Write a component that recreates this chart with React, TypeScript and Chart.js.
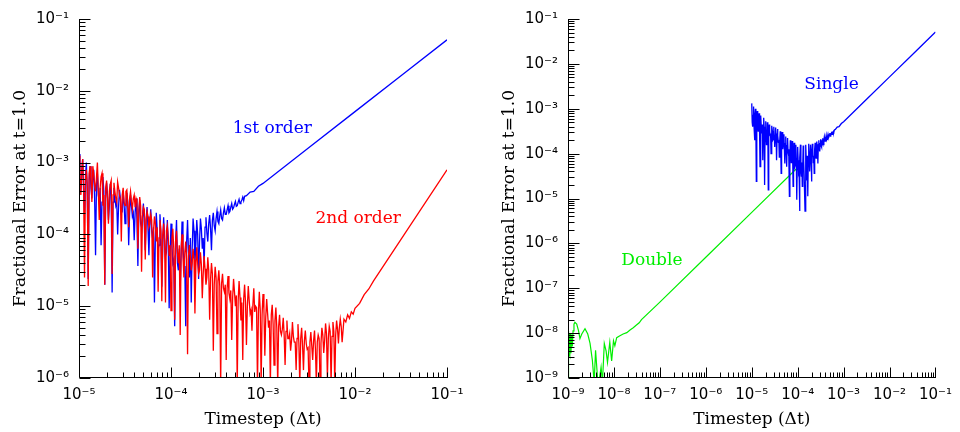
import React, { useEffect, useRef } from 'react';
import { Chart, registerables } from 'chart.js';

Chart.register(...registerables);

// ---- Data (stored as log10 values) ----
// Timestep grid of the round-off dominated (noisy) region, log10(dt): even samples
const noiseLogDt = [
  -5.00, -4.98, -4.96, -4.94, -4.92, -4.90, -4.88, -4.86, -4.84, -4.82,
  -4.80, -4.78, -4.76, -4.74, -4.72, -4.70, -4.68, -4.66, -4.64, -4.62,
  -4.60, -4.58, -4.56, -4.54, -4.52, -4.50, -4.48, -4.46, -4.44, -4.42,
  -4.40, -4.38, -4.36, -4.34, -4.32, -4.30, -4.28, -4.26, -4.24, -4.22,
  -4.20, -4.18, -4.16, -4.14, -4.12, -4.10, -4.08, -4.06, -4.04, -4.02,
  -4.00, -3.98, -3.96, -3.94, -3.92, -3.90, -3.88, -3.86, -3.84, -3.82,
  -3.80, -3.78, -3.76, -3.74, -3.72, -3.70, -3.68, -3.66, -3.64, -3.62,
  -3.60, -3.58, -3.56, -3.54, -3.52, -3.50, -3.48, -3.46, -3.44, -3.42,
  -3.40, -3.38, -3.36, -3.34, -3.32, -3.30, -3.28, -3.26, -3.24, -3.22,
  -3.20, -3.18, -3.16, -3.14, -3.12, -3.10, -3.08, -3.06, -3.04, -3.02,
  -3.00, -2.98, -2.96, -2.94, -2.92, -2.90, -2.88, -2.86, -2.84, -2.82,
  -2.80, -2.78, -2.76, -2.74, -2.72, -2.70, -2.68, -2.66, -2.64, -2.62,
  -2.60, -2.58, -2.56, -2.54, -2.52, -2.50, -2.48, -2.46, -2.44, -2.42,
  -2.40, -2.38, -2.36, -2.34, -2.32, -2.30, -2.28, -2.26, -2.24, -2.22,
  -2.20, -2.18, -2.16, -2.14,
];
// ...and the samples in between
const noiseMidLogDt = [
  -4.99, -4.97, -4.95, -4.93, -4.91, -4.89, -4.87, -4.85, -4.83, -4.81,
  -4.79, -4.77, -4.75, -4.73, -4.71, -4.69, -4.67, -4.65, -4.63, -4.61,
  -4.59, -4.57, -4.55, -4.53, -4.51, -4.49, -4.47, -4.45, -4.43, -4.41,
  -4.39, -4.37, -4.35, -4.33, -4.31, -4.29, -4.27, -4.25, -4.23, -4.21,
  -4.19, -4.17, -4.15, -4.13, -4.11, -4.09, -4.07, -4.05, -4.03, -4.01,
  -3.99, -3.97, -3.95, -3.93, -3.91, -3.89, -3.87, -3.85, -3.83, -3.81,
  -3.79, -3.77, -3.75, -3.73, -3.71, -3.69, -3.67, -3.65, -3.63, -3.61,
  -3.59, -3.57, -3.55, -3.53, -3.51, -3.49, -3.47, -3.45, -3.43, -3.41,
  -3.39, -3.37, -3.35, -3.33, -3.31, -3.29, -3.27, -3.25, -3.23, -3.21,
  -3.19, -3.17, -3.15, -3.13, -3.11, -3.09, -3.07, -3.05, -3.03, -3.01,
  -2.99, -2.97, -2.95, -2.93, -2.91, -2.89, -2.87, -2.85, -2.83, -2.81,
  -2.79, -2.77, -2.75, -2.73, -2.71, -2.69, -2.67, -2.65, -2.63, -2.61,
  -2.59, -2.57, -2.55, -2.53, -2.51, -2.49, -2.47, -2.45, -2.43, -2.41,
  -2.39, -2.37, -2.35, -2.33, -2.31, -2.29, -2.27, -2.25, -2.23, -2.21,
  -2.19, -2.17, -2.15,
];

// 1st order (single precision) error, noisy part, log10 — at noiseLogDt
const firstOrderNoiseLogErr = [
  -2.88, -3.40, -2.95, -3.70, -3.00, -4.62, -3.05, -3.50, -3.10, -4.29,
  -3.15, -3.55, -4.15, -3.20, -4.70, -3.28, -3.80, -3.30, -4.81, -3.35,
  -3.60, -4.00, -3.38, -3.70, -3.40, -3.85, -3.42, -4.15, -3.45, -3.75,
  -4.08, -3.50, -4.44, -3.52, -3.90, -3.57, -4.22, -3.62, -4.29, -3.65,
  -4.05, -4.95, -3.70, -4.20, -3.72, -4.73, -3.76, -4.30, -3.80, -5.03,
  -3.85, -4.40, -5.28, -3.80, -4.50, -4.73, -3.82, -4.45, -5.28, -3.80,
  -4.60, -4.95, -3.78, -4.40, -3.80, -4.62, -3.78, -4.20, -4.44, -3.76,
  -4.10, -3.73, -4.22, -3.70, -3.95, -3.68, -3.85, -3.66, -3.80, -3.63,
  -3.72, -3.60, -3.68, -3.57, -3.63, -3.54, -3.60, -3.51, -3.55, -3.48,
  -3.47,
];
// ...at noiseMidLogDt
const firstOrderMidLogErr = [
  -3.30, -3.15, -3.40, -3.20, -3.45, -3.25, -3.35, -3.20, -3.50, -3.30,
  -3.45, -3.35, -3.55, -3.40, -3.50, -3.45, -3.60, -3.42, -3.55, -3.50,
  -3.55, -3.62, -3.50, -3.68, -3.58, -3.65, -3.55, -3.72, -3.60, -3.70,
  -3.70, -3.80, -3.68, -3.85, -3.75, -3.88, -3.78, -3.92, -3.82, -3.95,
  -3.90, -4.05, -3.95, -4.15, -4.00, -4.20, -4.05, -4.25, -4.10, -4.30,
  -4.15, -4.35, -4.10, -4.40, -4.20, -4.30, -4.15, -4.45, -4.10, -4.25,
  -4.05, -4.20, -3.95, -4.15, -4.00, -4.10, -3.92, -4.05, -3.90, -3.98,
  -3.85, -3.92, -3.80, -3.88, -3.78, -3.82, -3.74, -3.78, -3.70, -3.72,
  -3.66, -3.70, -3.62, -3.65, -3.58, -3.61, -3.55, -3.57, -3.52, -3.53,
];
// 1st order truncation-dominated part
const firstOrderLineLogDt = [-3.18, -3.14, -3.10, -3.05, -3.00, -2.50, -2.00, -1.50, -1.00];
const firstOrderLineLogErr = [-3.46, -3.41, -3.40, -3.33, -3.29, -2.79, -2.29, -1.79, -1.29];

// 2nd order error, noisy part, log10 — at noiseLogDt
const secondOrderNoiseLogErr = [
  -2.90, -3.45, -2.95, -4.60, -3.10, -4.72, -3.05, -3.55, -3.15, -3.40,
  -3.00, -3.80, -3.20, -3.60, -4.70, -3.25, -3.85, -3.30, -4.55, -3.28,
  -3.50, -3.27, -3.45, -4.10, -3.35, -3.60, -3.38, -3.90, -3.40, -3.65,
  -3.45, -3.50, -4.20, -3.48, -4.52, -3.62, -4.35, -3.68, -3.90, -3.72,
  -4.60, -3.75, -4.10, -4.80, -3.80, -4.93, -3.85, -4.95, -3.88, -4.30,
  -5.06, -3.92, -5.19, -3.95, -4.40, -5.40, -4.00, -4.60, -4.10, -5.67,
  -4.15, -4.50, -4.20, -5.10, -4.18, -4.55, -4.25, -4.89, -4.30, -4.70,
  -4.32, -5.19, -4.40, -5.62, -4.45, -5.38, -4.50, -6.10, -4.55, -4.80,
  -5.75, -4.58, -4.90, -5.47, -4.62, -5.00, -6.10, -4.65, -5.20, -5.75,
  -4.70, -5.54, -4.72, -5.10, -5.34, -4.75, -5.00, -6.10, -4.80, -6.10,
  -4.83, -5.69, -4.90, -5.30, -6.10, -4.98, -5.82, -5.02, -6.10, -5.12,
  -5.40, -5.16, -5.82, -5.20, -5.45, -5.62, -5.22, -5.50, -5.89, -5.25,
  -6.10, -5.30, -5.89, -5.34, -5.60, -6.10, -5.36, -5.75, -5.34, -6.10,
  -5.40, -6.10, -5.30, -5.65, -5.24, -6.00, -5.28, -6.10, -5.22, -6.10,
  -5.20, -5.52, -5.18, -5.50,
];
// ...at noiseMidLogDt
const secondOrderMidLogErr = [
  -3.20, -3.10, -3.35, -3.25, -3.30, -3.15, -3.25, -3.05, -3.30, -3.20,
  -3.40, -3.35, -3.15, -3.45, -3.35, -3.50, -3.40, -3.25, -3.45, -3.40,
  -3.55, -3.35, -3.50, -3.45, -3.55, -3.40, -3.60, -3.50, -3.55, -3.50,
  -3.62, -3.55, -3.70, -3.60, -3.75, -3.65, -3.80, -3.75, -3.85, -3.80,
  -3.95, -3.85, -3.90, -4.05, -3.95, -4.00, -4.10, -3.95, -4.05, -4.15,
  -4.05, -4.20, -4.10, -4.25, -4.15, -4.20, -4.30, -4.25, -4.35, -4.30,
  -4.30, -4.40, -4.35, -4.45, -4.40, -4.50, -4.42, -4.55, -4.48, -4.60,
  -4.50, -4.62, -4.55, -4.70, -4.60, -4.65, -4.72, -4.68, -4.75, -4.70,
  -4.75, -4.82, -4.78, -4.88, -4.80, -4.85, -4.92, -4.88, -4.95, -4.90,
  -4.95, -5.00, -4.92, -5.05, -4.98, -5.08, -5.02, -5.10, -5.05, -5.12,
  -5.05, -5.15, -5.10, -5.20, -5.12, -5.25, -5.20, -5.30, -5.28, -5.35,
  -5.32, -5.40, -5.35, -5.45, -5.38, -5.48, -5.42, -5.50, -5.45, -5.52,
  -5.45, -5.55, -5.48, -5.52, -5.58, -5.50, -5.55, -5.48, -5.60, -5.50,
  -5.45, -5.52, -5.40, -5.48, -5.38, -5.45, -5.35, -5.42, -5.35, -5.40,
  -5.32, -5.30, -5.28,
];
const secondOrderLineLogDt = [-2.12, -2.10, -2.08, -2.06, -2.04, -2.02, -2.00, -1.95, -1.90, -1.85, -1.80, -1.50, -1.00];
const secondOrderLineLogErr = [-5.18, -5.22, -5.12, -5.17, -5.08, -5.11, -5.03, -4.96, -4.84, -4.76, -4.65, -4.07, -3.10];

// Double precision error, log10 (visible part; beyond it lies under the single-precision curve)
const doubleLogDt = [
  -9.00, -8.995, -8.99, -8.98, -8.975, -8.965, -8.957, -8.945, -8.935, -8.92,
  -8.905, -8.89, -8.87, -8.85, -8.81, -8.77, -8.74, -8.70, -8.63, -8.57,
  -8.52, -8.47, -8.43, -8.40, -8.35, -8.32, -8.28, -8.25, -8.21, -8.17,
  -8.14, -8.09, -8.05, -8.01, -7.98, -7.94, -7.87, -7.80, -7.72, -7.65,
  -7.58, -7.51, -7.45, -7.40, -7.00, -6.00, -5.00, -4.00, -3.90,
];
const doubleLogErr = [
  -9.10, -7.95, -8.50, -7.98, -8.45, -8.00, -8.50, -8.02, -8.45, -8.05,
  -8.30, -7.95, -7.80, -7.76, -7.80, -7.95, -8.12, -8.02, -7.90, -8.02,
  -8.23, -8.60, -9.10, -8.38, -9.10, -9.05, -8.76, -9.10, -8.23, -8.40,
  -8.65, -8.20, -8.62, -8.17, -8.28, -8.10, -8.06, -8.02, -7.99, -7.93,
  -7.88, -7.82, -7.77, -7.70, -7.31, -6.31, -5.31, -4.31, -4.21,
];

// Axis ranges (log10)
const leftXRange = [-5, -1];
const leftYRange = [-6, -1];
const rightXRange = [-9, -1];
const rightYRange = [-9, -1];

// Curve labels (text, log10 x, log10 y, colour)
const leftLabels = [
  { text: '1st order', lx: -3.33, ly: -2.52, color: '#0000ff' },
  { text: '2nd order', lx: -2.43, ly: -3.78, color: '#ff0000' },
];
const rightLabels = [
  { text: 'Single', lx: -3.855, ly: -2.46, color: '#0000ff' },
  { text: 'Double', lx: -7.84, ly: -6.39, color: '#00ee00' },
];

const X_TITLE = 'Timestep (\u0394t)';
const Y_TITLE = 'Fractional Error at t=1.0';

// ---- helpers ----
type P = { x: number; y: number };
const pts = (lx: number[], ly: number[]): P[] => ly.map((v, i) => ({ x: Math.pow(10, lx[i]), y: Math.pow(10, v) }));
const merge = (...parts: P[][]) => ([] as P[]).concat(...parts).sort((a, b) => a.x - b.x);

const SUP: Record<string, string> = {
  '-': '\u207B', '0': '\u2070', '1': '\u00B9', '2': '\u00B2', '3': '\u00B3', '4': '\u2074',
  '5': '\u2075', '6': '\u2076', '7': '\u2077', '8': '\u2078', '9': '\u2079',
};
const powLabel = (v: number) => {
  const e = Math.round(Math.log10(v));
  if (Math.abs(v / Math.pow(10, e) - 1) > 1e-6) return '';
  return '10' + String(e).split('').map((c) => SUP[c]).join('');
};

const inwardAxes = {
  id: 'inwardAxes',
  afterDraw(chart: any) {
    const { ctx, chartArea: a, scales } = chart;
    const xs = scales.x;
    const ys = scales.y;
    ctx.save();
    ctx.strokeStyle = '#000';
    ctx.lineWidth = 1;
    ctx.beginPath();
    const L = Math.round(a.left) + 0.5;
    const B = Math.round(a.bottom) - 0.5;
    ctx.moveTo(L, Math.round(a.top));
    ctx.lineTo(L, B);
    ctx.lineTo(Math.round(a.right) + 1, B);
    const e0x = Math.round(Math.log10(xs.min));
    const e1x = Math.round(Math.log10(xs.max));
    for (let e = e0x; e <= e1x; e++) {
      for (let m = 1; m < 10; m++) {
        if (e === e1x && m > 1) break;
        const px = Math.round(xs.getPixelForValue(m * Math.pow(10, e))) + 0.5;
        const len = m === 1 ? 10 : 5;
        ctx.moveTo(px, B);
        ctx.lineTo(px, B - len);
      }
    }
    const e0y = Math.round(Math.log10(ys.min));
    const e1y = Math.round(Math.log10(ys.max));
    for (let e = e0y; e <= e1y; e++) {
      for (let m = 1; m < 10; m++) {
        if (e === e1y && m > 1) break;
        const py = Math.round(ys.getPixelForValue(m * Math.pow(10, e))) + 0.5;
        const len = m === 1 ? 11 : 6;
        ctx.moveTo(L, py);
        ctx.lineTo(L + len, py);
      }
    }
    ctx.stroke();
    ctx.restore();
  },
};

const curveLabels = {
  id: 'curveLabels',
  afterDraw(chart: any, _args: any, opts: any) {
    const { ctx, scales } = chart;
    ctx.save();
    ctx.font = '17px "DejaVu Serif"';
    ctx.textAlign = 'left';
    ctx.textBaseline = 'middle';
    (opts.items || []).forEach((it: any) => {
      ctx.fillStyle = it.color;
      ctx.fillText(it.text, scales.x.getPixelForValue(Math.pow(10, it.lx)), scales.y.getPixelForValue(Math.pow(10, it.ly)));
    });
    ctx.restore();
  },
};

type Cfg = {
  datasets: any[];
  xr: number[];
  yr: number[];
  yWidth: number;
  padRight: number;
  yTitlePad: number;
  labels: any[];
};

function makeConfig(c: Cfg): any {
  return {
    type: 'scatter',
    data: { datasets: c.datasets },
    options: {
      animation: false,
      responsive: false,
      maintainAspectRatio: false,
      devicePixelRatio: 1,
      events: [],
      layout: { padding: { top: 13, right: c.padRight, left: 0, bottom: 0 } },
      elements: { point: { radius: 0 }, line: { tension: 0 } },
      plugins: {
        legend: { display: false },
        tooltip: { enabled: false },
        curveLabels: { items: c.labels },
      },
      scales: {
        x: {
          type: 'logarithmic',
          min: Math.pow(10, c.xr[0]),
          max: Math.pow(10, c.xr[1]),
          grid: { display: false, drawTicks: false },
          border: { display: false },
          afterFit: (s: any) => { s.height = 54; },
          ticks: {
            autoSkip: false,
            maxRotation: 0,
            padding: 8,
            color: '#000',
            font: { family: '"DejaVu Sans"', size: 15 },
            callback: (v: any) => powLabel(Number(v)),
          },
          title: {
            display: true,
            text: X_TITLE,
            color: '#000',
            font: { family: '"DejaVu Serif"', size: 17 },
            padding: { top: 0, bottom: 2 },
          },
        },
        y: {
          type: 'logarithmic',
          min: Math.pow(10, c.yr[0]),
          max: Math.pow(10, c.yr[1]),
          grid: { display: false, drawTicks: false },
          border: { display: false },
          afterFit: (s: any) => { s.width = c.yWidth; },
          ticks: {
            autoSkip: false,
            padding: 10,
            color: '#000',
            font: { family: '"DejaVu Sans"', size: 15 },
            callback: (v: any) => powLabel(Number(v)),
          },
          title: {
            display: true,
            text: Y_TITLE,
            color: '#000',
            font: { family: '"DejaVu Serif"', size: 17 },
            padding: { top: c.yTitlePad, bottom: 0 },
          },
        },
      },
    },
    plugins: [inwardAxes, curveLabels],
  };
}

const lineStyle = (color: string, width: number) => ({
  showLine: true,
  borderColor: color,
  backgroundColor: color,
  borderWidth: width,
  pointRadius: 0,
  fill: false,
  borderJoinStyle: 'miter',
});

export default function App() {
  const leftRef = useRef<HTMLCanvasElement>(null);
  const rightRef = useRef<HTMLCanvasElement>(null);

  useEffect(() => {
    const single = merge(
      pts(noiseLogDt, firstOrderNoiseLogErr),
      pts(noiseMidLogDt, firstOrderMidLogErr),
      pts(firstOrderLineLogDt, firstOrderLineLogErr),
    );
    const second = merge(
      pts(noiseLogDt, secondOrderNoiseLogErr),
      pts(noiseMidLogDt, secondOrderMidLogErr),
      pts(secondOrderLineLogDt, secondOrderLineLogErr),
    );
    const dbl = pts(doubleLogDt, doubleLogErr);

    const left = new Chart(leftRef.current as HTMLCanvasElement, makeConfig({
      datasets: [
        { label: '2nd order', data: second, ...lineStyle('#ff0000', 1.3) },
        { label: '1st order', data: single, ...lineStyle('#0000ff', 1.3) },
      ],
      xr: leftXRange,
      yr: leftYRange,
      yWidth: 79,
      padRight: 33,
      yTitlePad: 10,
      labels: leftLabels,
    }));
    const right = new Chart(rightRef.current as HTMLCanvasElement, makeConfig({
      datasets: [
        { label: 'Single', data: single, ...lineStyle('#0000ff', 1.3) },
        { label: 'Double', data: dbl, ...lineStyle('#00ee00', 1.2) },
      ],
      xr: rightXRange,
      yr: rightYRange,
      yWidth: 88,
      padRight: 24,
      yTitlePad: 19,
      labels: rightLabels,
    }));
    return () => {
      left.destroy();
      right.destroy();
    };
  }, []);

  return (
    <div style={{ position: 'fixed', left: 0, top: 0, width: 960, height: 432, background: '#fff' }}>
      <canvas ref={leftRef} width={480} height={432} style={{ position: 'absolute', left: 0, top: 0, width: 480, height: 432 }} />
      <canvas ref={rightRef} width={480} height={432} style={{ position: 'absolute', left: 480, top: 0, width: 480, height: 432 }} />
    </div>
  );
}
